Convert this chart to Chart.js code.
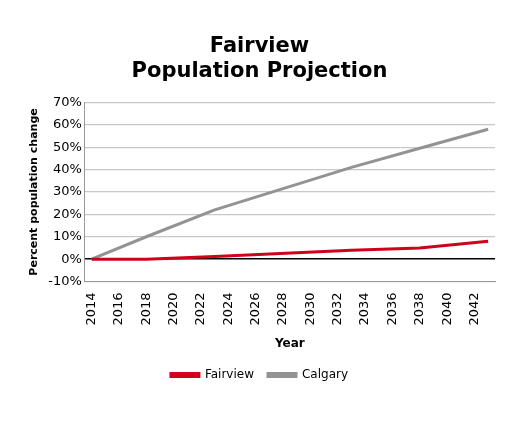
<!DOCTYPE html>
<html>
<head>
<meta charset="utf-8">
<script src="https://cdn.jsdelivr.net/npm/chart.js@4"></script>
<style>
body { margin: 0; background: #fff; }
#wrap { width: 509px; height: 425px; }
</style>
</head>
<body>
<div id="wrap"><canvas id="chart"></canvas></div>
<script>
var years = [];
for (var y = 2014; y <= 2043; y++) years.push(String(y));

// values at the break points, gaps spanned
var fairview = {2014: 0, 2018: 0, 2023: 1.2, 2033: 4, 2038: 5, 2043: 8};
var calgary = {2014: 0, 2018: 10, 2023: 22, 2033: 41, 2038: 49.5, 2043: 58};

function toSeries(pts) {
    return years.map(function (yr) { return pts[yr] !== undefined ? pts[yr] : null; });
}

Chart.defaults.font.family = 'DejaVu Sans';
Chart.defaults.color = '#000';

new Chart(document.getElementById('chart'), {
    type: 'line',
    data: {
        labels: years,
        datasets: [{
            label: 'Fairview',
            data: toSeries(fairview),
            borderColor: '#d0021b',
            backgroundColor: '#d0021b',
            borderWidth: 3,
            pointRadius: 0,
            spanGaps: true
        }, {
            label: 'Calgary',
            data: toSeries(calgary),
            borderColor: '#939393',
            backgroundColor: '#939393',
            borderWidth: 3,
            pointRadius: 0,
            spanGaps: true
        }]
    },
    options: {
        responsive: true,
        maintainAspectRatio: false,
        animation: false,
        layout: { padding: { left: 24, right: 14, top: 34, bottom: 34 } },
        plugins: {
            title: {
                display: true,
                text: ['Fairview', 'Population Projection'],
                font: { size: 21, weight: 'bold' },
                padding: { bottom: 18 }
            },
            legend: {
                position: 'bottom',
                labels: { boxWidth: 28, boxHeight: 3, font: { size: 12 }, padding: 14 }
            }
        },
        scales: {
            x: {
                offset: true,
                grid: { display: false },
                border: { color: '#999' },
                ticks: {
                    autoSkip: false,
                    maxRotation: 90, minRotation: 90,
                    font: { size: 13 },
                    callback: function (v, i) { return i % 2 === 0 ? years[i] : ''; }
                },
                title: { display: true, text: 'Year', font: { size: 12, weight: 'bold' }, padding: { top: 8 } }
            },
            y: {
                min: -10, max: 70,
                ticks: { stepSize: 10, font: { size: 13 }, callback: function (v) { return v + '%'; } },
                grid: {
                    color: function (c) { return c.tick.value === 0 ? '#000' : '#c8c8c8'; },
                    lineWidth: function (c) { return c.tick.value === 0 ? 1.5 : 1.2; },
                    drawTicks: false
                },
                border: { color: '#999' },
                title: { display: true, text: 'Percent population change', font: { size: 11, weight: 'bold' } }
            }
        }
    }
});
</script>
</body>
</html>
